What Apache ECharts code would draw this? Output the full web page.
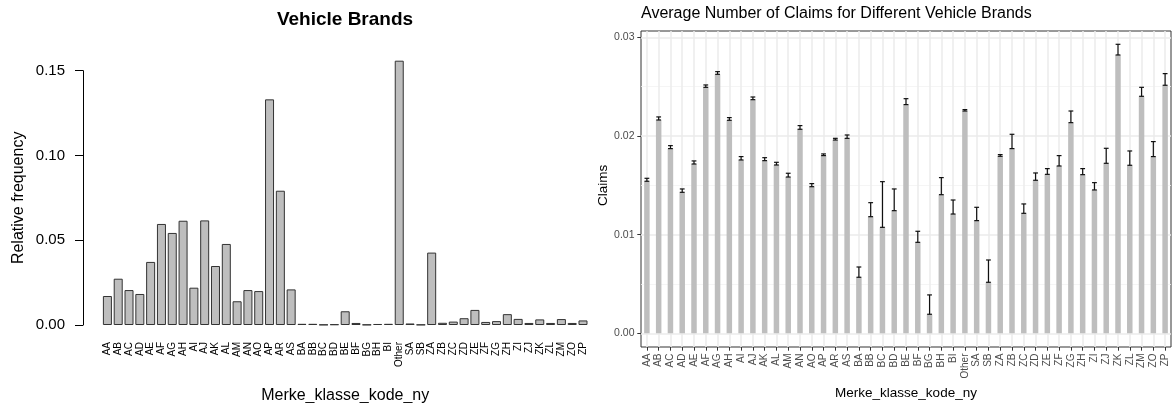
<!DOCTYPE html>
<html>
<head>
<meta charset="utf-8">
<script src="https://cdn.jsdelivr.net/npm/echarts@6/dist/echarts.min.js"></script>
<style>
html,body{margin:0;padding:0;background:#fff;}
#chart{width:1176px;height:403px;}
</style>
</head>
<body>
<div id="chart"></div>
<script>
const categories = ['AA','AB','AC','AD','AE','AF','AG','AH','AI','AJ','AK','AL','AM','AN','AO','AP','AR','AS','BA','BB','BC','BD','BE','BF','BG','BH','BI','Other','SA','SB','ZA','ZB','ZC','ZD','ZE','ZF','ZG','ZH','ZI','ZJ','ZK','ZL','ZM','ZO','ZP'];

// Left panel: relative frequency of each brand
const relFreq = [0.0171,0.0273,0.0206,0.0183,0.0372,0.0596,0.0543,0.0615,0.0220,0.0617,0.0348,0.0478,0.0140,0.0206,0.0200,0.1331,0.0792,0.0210,
  0.0007,0.0007,0.0002,0.0004,0.0081,0.0012,0.0002,0.0006,0.0007,
  0.1559,0.0009,0.0002,
  0.0427,0.0013,0.0020,0.0040,0.0089,0.0018,0.0023,0.0064,0.0036,0.0012,0.0033,0.0012,0.0035,0.0012,0.0027];
const freqTicks = [0, 0.05, 0.10, 0.15];

// Right panel: bar heights (lower end of error bar) and upper end of error bar
const claimsLow = [0.01541,0.02162,0.01872,0.01429,0.01716,0.02493,0.02625,0.02159,0.01757,0.02368,0.01750,0.01706,0.01584,0.02068,0.01486,0.01801,0.01959,0.01976,
  0.00568,0.01182,0.01074,0.01243,0.02318,0.00922,0.00193,0.01405,0.01209,
  0.02253,0.01142,0.00517,
  0.01794,0.01872,0.01216,0.01551,0.01611,0.01696,0.02135,0.01608,0.01453,0.01723,0.02821,0.01703,0.02402,0.01791,0.02514];
const claimsHigh = [0.01571,0.02193,0.01902,0.01463,0.01747,0.02517,0.02652,0.02186,0.01791,0.02395,0.01780,0.01733,0.01622,0.02105,0.01517,0.01818,0.01976,0.02010,
  0.00672,0.01324,0.01537,0.01463,0.02378,0.01034,0.00389,0.01578,0.01351,
  0.02267,0.01277,0.00743,
  0.01811,0.02017,0.01311,0.01625,0.01669,0.01801,0.02253,0.01669,0.01527,0.01875,0.02929,0.01848,0.02493,0.01943,0.02632];
const claimsTicks = [0, 0.01, 0.02, 0.03];

const FONT = "'Liberation Sans', Arial, Helvetica, sans-serif";
const chart = echarts.init(document.getElementById('chart'), null, {renderer: 'canvas'});

const errData = categories.map((c, i) => [i, claimsLow[i], claimsHigh[i]]);

const option = {
  animation: false,
  backgroundColor: '#ffffff',
  textStyle: {fontFamily: FONT},
  title: [
    {text: 'Vehicle Brands', left: 345, top: 10, textAlign: 'center', padding: 0,
     textStyle: {fontFamily: FONT, fontSize: 19, fontWeight: 'bold', color: '#000'}},
    {text: 'Average Number of Claims for Different Vehicle Brands', left: 641, top: 6, padding: 0,
     textStyle: {fontFamily: FONT, fontSize: 16, fontWeight: 'normal', color: '#000'}}
  ],
  grid: [
    {left: 102, right: 587.6, top: 70.7, bottom: 78, show: false, containLabel: false, outerBoundsMode: 'none'},
    {left: 641, right: 5, top: 31, bottom: 56, show: true, borderColor: '#333333', borderWidth: 1, backgroundColor: 'rgba(0,0,0,0)', containLabel: false, outerBoundsMode: 'none'},
    {left: 641, right: 5, top: 37.3, bottom: 69.7, show: false, containLabel: false, outerBoundsMode: 'none'}
  ],
  xAxis: [
    {type: 'category', gridIndex: 0, data: categories,
     axisLine: {show: false}, axisTick: {show: false},
     axisLabel: {interval: 0, rotate: 90, fontSize: 10, color: '#000', margin: 17, fontFamily: FONT},
     name: 'Merke_klasse_kode_ny', nameLocation: 'middle', nameGap: 63,
     nameTextStyle: {fontSize: 16, color: '#000', fontFamily: FONT}},
    {type: 'category', gridIndex: 1, data: categories,
     axisLine: {show: false},
     axisTick: {show: true, interval: 0, alignWithLabel: true, length: 3.7, lineStyle: {color: '#333333'}},
     axisLabel: {interval: 0, rotate: 90, fontSize: 10, color: '#4d4d4d', margin: 6.5, fontFamily: FONT},
     splitLine: {show: true, interval: 0, alignWithLabel: true, lineStyle: {color: '#ebebeb', width: 1.5}},
     name: 'Merke_klasse_kode_ny', nameLocation: 'middle', nameGap: 38,
     nameTextStyle: {fontSize: 13.5, color: '#000', fontFamily: FONT}},
    {type: 'category', gridIndex: 2, data: categories, show: false}
  ],
  yAxis: [
    {type: 'value', gridIndex: 0, min: freqTicks[0], max: freqTicks[freqTicks.length - 1], interval: 0.05, offset: 19,
     axisLine: {show: true, lineStyle: {color: '#000', width: 1}},
     axisTick: {show: true, length: 8, lineStyle: {color: '#000'}},
     axisLabel: {fontSize: 15, color: '#000', margin: 18, fontFamily: FONT, formatter: v => v.toFixed(2)},
     splitLine: {show: false},
     name: 'Relative frequency', nameLocation: 'middle', nameGap: 56, nameRotate: 90,
     nameTextStyle: {fontSize: 16, color: '#000', fontFamily: FONT}},
    {type: 'value', gridIndex: 1, min: 0, max: 1, show: false, splitLine: {show: false}},
    {type: 'value', gridIndex: 2, min: claimsTicks[0], max: claimsTicks[claimsTicks.length - 1], interval: 0.01,
     axisLine: {show: false},
     axisTick: {show: true, length: 3.7, lineStyle: {color: '#333333'}},
     axisLabel: {fontSize: 10.5, color: '#4d4d4d', margin: 6.5, fontFamily: FONT, formatter: v => v.toFixed(2)},
     splitLine: {show: true, lineStyle: {color: '#ebebeb', width: 1.5}},
     minorTick: {show: false, splitNumber: 2},
     minorSplitLine: {show: true, lineStyle: {color: '#f2f2f2', width: 0.8}},
     name: 'Claims', nameLocation: 'middle', nameGap: 30, nameRotate: 90,
     nameTextStyle: {fontSize: 13.5, color: '#000', fontFamily: FONT}}
  ],
  series: [
    {type: 'bar', name: 'freq', xAxisIndex: 0, yAxisIndex: 0, data: relFreq, clip: false,
     barCategoryGap: '16.7%',
     itemStyle: {color: '#bebebe', borderColor: '#333333', borderWidth: 1}},
    {type: 'bar', name: 'claims', xAxisIndex: 2, yAxisIndex: 2, data: claimsLow, barWidth: 5.5, z: 3,
     itemStyle: {color: '#bebebe'}},
    {type: 'custom', name: 'err', xAxisIndex: 2, yAxisIndex: 2, data: errData, z: 4,
     renderItem: function (params, api) {
       const i = api.value(0);
       const lo = api.coord([i, api.value(1)]);
       const hi = api.coord([i, api.value(2)]);
       const hw = 2.4;
       const st = {stroke: '#111', lineWidth: 1.2, fill: null};
       return {type: 'group', children: [
         {type: 'line', shape: {x1: lo[0], y1: lo[1], x2: hi[0], y2: hi[1]}, style: st},
         {type: 'line', shape: {x1: lo[0] - hw, y1: lo[1], x2: lo[0] + hw, y2: lo[1]}, style: st},
         {type: 'line', shape: {x1: hi[0] - hw, y1: hi[1], x2: hi[0] + hw, y2: hi[1]}, style: st}
       ]};
     }}
  ]
};
chart.setOption(option);
</script>
</body>
</html>
